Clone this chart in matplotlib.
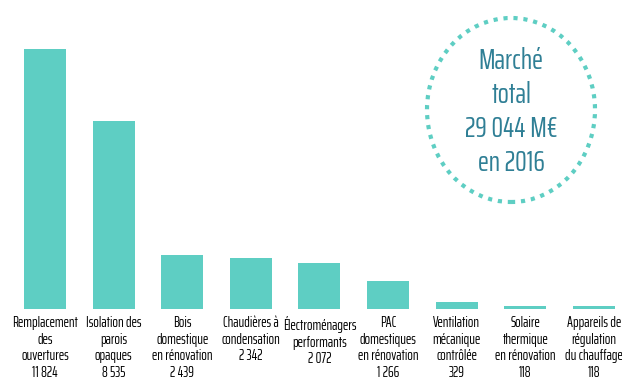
import matplotlib
matplotlib.use('Agg')
import matplotlib.pyplot as plt
from matplotlib.patches import Ellipse

categories = ['Remplacement\ndes\nouvertures', 'Isolation des\nparois\nopaques',
	'Bois\ndomestique\nen rénovation', 'Chaudières à\ncondensation',
	'Électroménagers\nperformants', 'PAC\ndomestiques\nen rénovation',
	'Ventilation\nmécanique\ncontrôlée', 'Solaire\nthermique\nen rénovation',
	'Appareils de\nrégulation\ndu chauffage']
values = [11824, 8535, 2439, 2342, 2072, 1266, 329, 118, 118]
value_labels = ['11 824', '8 535', '2 439', '2 342', '2 072', '1 266', '329', '118', '118']
total_text = 'Marché\ntotal\n29 044 M€\nen 2016'

bar_color = '#5ecec3'
text_color = '#2f7f95'

plt.rcParams['font.family'] = ['Saira ExtraCondensed', 'Liberation Sans Narrow', 'DejaVu Sans']

W, H = 622, 383
fig = plt.figure(figsize=(W/100, H/100), dpi=100)
ax = fig.add_axes([0, 74/H, 1, 309/H])
x = list(range(len(values)))
ax.bar(x, values, width=0.61, color=bar_color)
ax.set_xlim(-45/68.6, (W-45)/68.6)
ax.set_ylim(0, 11824*309/260)
ax.axis('off')

# category + value under each bar
for i, (c, v) in enumerate(zip(categories, value_labels)):
	ax.annotate(c + '\n' + v, (i, 0), xytext=(0, -5), textcoords='offset points',
		ha='center', va='top', fontsize=10.5, linespacing=1.24, color='black')

circ = Ellipse((511/W, 1-110/H), 168/W, 184/H, transform=fig.transFigure,
	fill=False, edgecolor=bar_color, linewidth=3, linestyle=(0, (1, 1.4)),
	capstyle='butt')
fig.add_artist(circ)
fig.text(511/W, 1-112/H, total_text, ha='center', va='center',
	fontsize=21, color=text_color, linespacing=1.26)

fig.savefig('out.png', dpi=100)
